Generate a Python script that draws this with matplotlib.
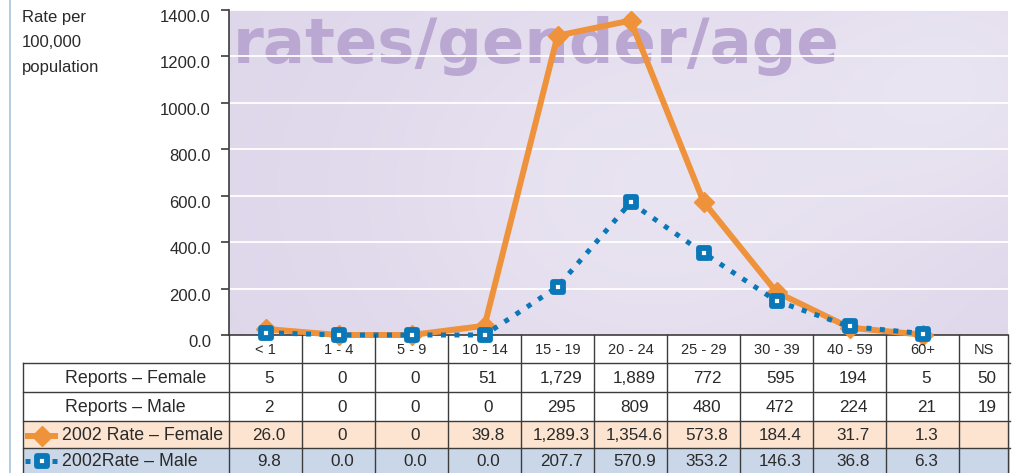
import numpy as np
import matplotlib
matplotlib.use("Agg")
import matplotlib.pyplot as plt
import matplotlib.transforms as mtransforms
from matplotlib.lines import Line2D
from matplotlib.patches import Rectangle
from matplotlib.markers import MarkerStyle
from matplotlib import font_manager

# ---------------- data ----------------
categories = ["< 1", "1 - 4", "5 - 9", "10 - 14", "15 - 19", "20 - 24",
              "25 - 29", "30 - 39", "40 - 59", "60+", "NS"]
reports_female = ["5", "0", "0", "51", "1,729", "1,889", "772", "595", "194", "5", "50"]
reports_male = ["2", "0", "0", "0", "295", "809", "480", "472", "224", "21", "19"]
rate_female = [26.0, 0, 0, 39.8, 1289.3, 1354.6, 573.8, 184.4, 31.7, 1.3]
rate_male = [9.8, 0.0, 0.0, 0.0, 207.7, 570.9, 353.2, 146.3, 36.8, 6.3]
rate_female_labels = ["26.0", "0", "0", "39.8", "1,289.3", "1,354.6", "573.8",
                      "184.4", "31.7", "1.3", ""]
rate_male_labels = ["9.8", "0.0", "0.0", "0.0", "207.7", "570.9", "353.2",
                    "146.3", "36.8", "6.3", ""]
yticks = [0, 200, 400, 600, 800, 1000, 1200, 1400]
row_names = ["Reports \u2013 Female", "Reports \u2013 Male",
             "2002 Rate \u2013 Female", "2002Rate \u2013 Male"]

# ---------------- style ----------------
W, H = 1019, 473
ORANGE = "#ef923c"
BLUE = "#0a78b8"
TXT = "#2a2a2a"
LINEC = "#3c3c3c"
PEACH = "#fce4d0"
LBLUE = "#cad7e8"
WM = "#bba8d2"

avail = {f.name for f in font_manager.fontManager.ttflist}
base_font = "Liberation Sans" if "Liberation Sans" in avail else "DejaVu Sans"
plt.rcParams["font.family"] = [base_font, "DejaVu Sans"]

fig = plt.figure(figsize=(W / 100, H / 100), dpi=100)
fig.patch.set_facecolor("white")


def fx(px):
    return px / W


def fy(py):
    return 1 - py / H


ax_l, ax_r, ax_t, ax_b = 229, 1008, 10, 335
ax = fig.add_axes([fx(ax_l), fy(ax_b), fx(ax_r) - fx(ax_l), fy(ax_t) - fy(ax_b)])
ax.set_xlim(-0.5, 10.17)
ax.set_ylim(0, 1400)

# background gradient
nx, ny = 300, 120
gx, gy = np.meshgrid(np.linspace(0, 1, nx), np.linspace(0, 1, ny))
light = np.exp(-((gx - 0.55) / 0.38) ** 2 - ((gy - 0.45) / 0.7) ** 2)
light = 0.55 * light + 0.45 * np.exp(-((gx - 0.95) / 0.2) ** 2 - ((gy - 0.8) / 0.4) ** 2)
light = np.clip(light, 0, 1)
c0 = np.array(matplotlib.colors.to_rgb("#ded6ea"))
c1 = np.array(matplotlib.colors.to_rgb("#f1eef7"))
img = c0[None, None, :] * (1 - light[..., None]) + c1[None, None, :] * light[..., None]
ax.imshow(img, extent=[-0.5, 10.17, 0, 1400], aspect="auto", origin="lower", zorder=0)

# watermark (below gridlines)
ax.text(fx(233), fy(63), "rates/gender/age", transform=fig.transFigure,
        fontsize=45, fontweight="bold", family="DejaVu Sans", color=WM,
        va="baseline", ha="left", zorder=0.5)

for yv in yticks[1:]:
    ax.axhline(yv, color="white", lw=1.3, zorder=1)

x = np.arange(len(rate_female))
ax.plot(x, rate_female, color=ORANGE, lw=4.3, marker="D", ms=10,
        mfc=ORANGE, mec=ORANGE, zorder=5, clip_on=False, solid_joinstyle="miter")
sq = MarkerStyle("s", joinstyle="round")
ax.plot(np.arange(len(rate_male)), rate_male, color=BLUE, lw=3.6,
        linestyle=(0, (1, 1.7)), dash_capstyle="butt", marker=sq, ms=7.5,
        mfc="white", mec=BLUE, mew=4.2, zorder=6, clip_on=False)

# axes styling
for s in ["top", "right"]:
    ax.spines[s].set_visible(False)
ax.spines["left"].set_color(LINEC)
ax.spines["left"].set_linewidth(1.2)
ax.spines["bottom"].set_color(LINEC)
ax.spines["bottom"].set_linewidth(1.2)
ax.set_xticks([])
ax.set_yticks(yticks)
ax.set_yticklabels([f"{v:.1f}" for v in yticks])
ax.tick_params(axis="y", direction="out", length=6, width=1.2, color=LINEC,
               labelsize=12, labelcolor=TXT, pad=7)
off = mtransforms.ScaledTranslation(0, -6 / 100, fig.dpi_scale_trans)
for lab in ax.get_yticklabels():
    lab.set_transform(lab.get_transform() + off)

# y label
fig.text(fx(22), fy(10), "Rate per\n100,000\npopulation", fontsize=12,
         color=TXT, ha="left", va="top", linespacing=1.85)

# left decorative border
fig.add_artist(Line2D([fx(10), fx(10)], [0, 1], color="#a9c3de", lw=1.2))

# ---------------- table ----------------
bt = mtransforms.blended_transform_factory(ax.transData, fig.transFigure)
xr = 10.17
bounds = [i - 0.5 for i in range(11)] + [xr]
centers = [i for i in range(10)] + [(9.5 + xr) / 2]
row_y = [363, 392, 421, 448, 473]
x_left_px = 23

# row backgrounds
fig.add_artist(Rectangle((fx(x_left_px), fy(448)), fx(1010) - fx(x_left_px),
                         fy(421) - fy(448), transform=fig.transFigure,
                         facecolor=PEACH, edgecolor="none", zorder=0))
fig.add_artist(Rectangle((fx(x_left_px), fy(473)), fx(1010) - fx(x_left_px),
                         fy(448) - fy(473), transform=fig.transFigure,
                         facecolor=LBLUE, edgecolor="none", zorder=0))

# horizontal lines
for ry in row_y[:-1]:
    fig.add_artist(Line2D([fx(x_left_px), fx(1010)], [fy(ry), fy(ry)],
                          color=LINEC, lw=1.0, zorder=3))
# vertical lines
fig.add_artist(Line2D([fx(x_left_px), fx(x_left_px)], [fy(363), 0],
                      color=LINEC, lw=1.0, zorder=3))
for b in bounds:
    fig.add_artist(Line2D([b, b], [fy(335), 0], transform=bt,
                          color=LINEC, lw=1.0, zorder=3))

# header labels
for c, lab in zip(centers, categories):
    fig.text(c, fy(350), lab, transform=bt, ha="center", va="center",
             fontsize=10.5, color=TXT)

rows = [reports_female, reports_male, rate_female_labels, rate_male_labels]
for r, vals in enumerate(rows):
    yc = (row_y[r] + row_y[r + 1]) / 2 + 1
    for c, v in zip(centers, vals):
        fig.text(c + 0.05, fy(yc), v, transform=bt, ha="center", va="center",
                 fontsize=12.3, color=TXT)

# row names
name_x = [65, 65, 62, 62]
for r, nm in enumerate(row_names):
    yc = (row_y[r] + row_y[r + 1]) / 2 + 1
    fig.text(fx(name_x[r]), fy(yc), nm, ha="left", va="center",
             fontsize=12.8, color=TXT)

# legend symbols
yc_f = fy(436)
fig.add_artist(Line2D([fx(28), fx(55)], [yc_f, yc_f], color=ORANGE, lw=4.3, zorder=4))
fig.add_artist(Line2D([fx(41.5)], [yc_f], color=ORANGE, marker="D", ms=10,
                      mfc=ORANGE, mec=ORANGE, zorder=5))
yc_m = fy(461)
fig.add_artist(Line2D([fx(25), fx(59)], [yc_m, yc_m], color=BLUE, lw=3.6,
                      linestyle=(0, (1, 1.7)), dash_capstyle="butt", zorder=4))
fig.add_artist(Line2D([fx(42)], [yc_m], color=BLUE, marker=sq, ms=7.5,
                      mfc="white", mec=BLUE, mew=4.2, zorder=5))

fig.savefig("out.png", dpi=100, facecolor="white")
